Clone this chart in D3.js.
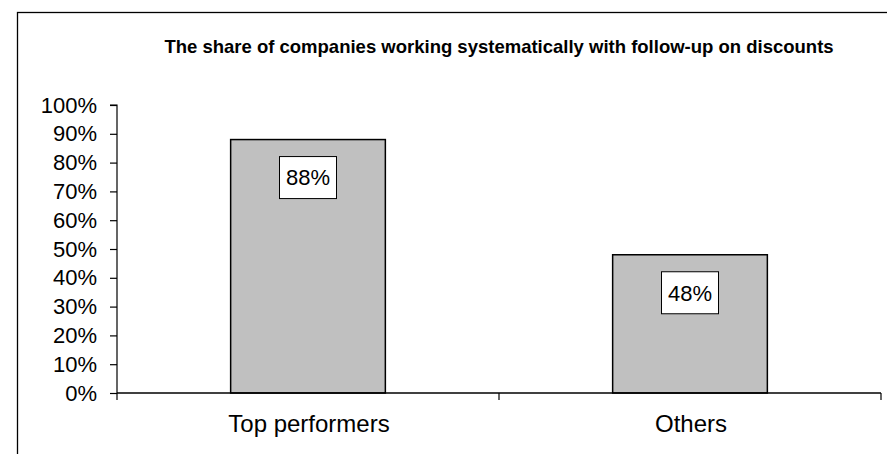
<!DOCTYPE html>
<html>
<head>
<meta charset="utf-8">
<script src="https://cdn.jsdelivr.net/npm/d3@7"></script>
<style>
  html, body { margin: 0; padding: 0; background: #fff; }
  svg { display: block; font-family: "Liberation Sans", Arial, sans-serif; }
</style>
</head>
<body>
<svg id="chart" width="887" height="454"></svg>
<script>
// Chart content
const chartTitle = "The share of companies working systematically with follow-up on discounts";
const categories = ["Top performers", "Others"];
const shares = [0.88, 0.48];
const valueLabels = ["88%", "48%"];
const yTickValues = [0, 0.1, 0.2, 0.3, 0.4, 0.5, 0.6, 0.7, 0.8, 0.9, 1.0];

const svg = d3.select("#chart");
const W = 887, H = 454;

// Plot area
const plot = { left: 117, right: 881, top: 105, bottom: 393 };

// Outer chart frame (extends past the right and bottom edges of the view)
svg.append("rect")
  .attr("x", 17.5).attr("y", 12.5)
  .attr("width", W + 40).attr("height", H + 40)
  .attr("fill", "#fff").attr("stroke", "#000").attr("stroke-width", 1.3);

// Scales
const x = d3.scaleBand().domain(categories).range([plot.left, plot.right]).padding(0);
const y = d3.scaleLinear().domain([0, 1]).range([plot.bottom, plot.top]);
const barFrac = 0.405;
const barW = x.bandwidth() * barFrac;

// Title
svg.append("text")
  .attr("x", (plot.left + plot.right) / 2)
  .attr("y", 53)
  .attr("text-anchor", "middle")
  .attr("font-weight", "bold")
  .attr("font-size", 18.5)
  .attr("fill", "#000")
  .text(chartTitle);

// Y axis
const yAxis = d3.axisLeft(y)
  .tickValues(yTickValues)
  .tickFormat(d3.format(".0%"))
  .tickSize(7)
  .tickPadding(13);
const gy = svg.append("g")
  .attr("transform", `translate(${plot.left},0)`)
  .call(yAxis);
gy.select(".domain").attr("stroke", "#000").attr("stroke-width", 1.2)
  .attr("d", `M-7,${y(1)}H0V${y(0)}`);
gy.selectAll(".tick line").attr("stroke", "#000").attr("stroke-width", 1.2);
gy.selectAll(".tick text")
  .attr("font-size", 22)
  .attr("fill", "#000")
  .attr("font-family", "'Liberation Sans', Arial, sans-serif");

// Bars
svg.append("g").selectAll("rect")
  .data(categories)
  .join("rect")
  .attr("x", (d) => x(d) + (x.bandwidth() - barW) / 2)
  .attr("y", (d, i) => y(shares[i]))
  .attr("width", barW)
  .attr("height", (d, i) => y(0) - y(shares[i]))
  .attr("fill", "#c0c0c0")
  .attr("stroke", "#000")
  .attr("stroke-width", 1.5);

// X axis: baseline with tick marks on category boundaries
const gx = svg.append("g").attr("transform", `translate(0,${plot.bottom})`);
gx.append("line")
  .attr("x1", plot.left).attr("x2", plot.right)
  .attr("y1", 0).attr("y2", 0)
  .attr("stroke", "#000").attr("stroke-width", 1.5);
const boundaries = categories.map((c) => x(c)).concat([x(categories[categories.length - 1]) + x.step()]);
gx.selectAll("line.tick")
  .data(boundaries)
  .join("line")
  .attr("class", "tick")
  .attr("x1", (d) => d).attr("x2", (d) => d)
  .attr("y1", 0).attr("y2", 7)
  .attr("stroke", "#000").attr("stroke-width", 1.2);
gx.selectAll("text")
  .data(categories)
  .join("text")
  .attr("x", (d) => x(d) + x.bandwidth() / 2 + 1)
  .attr("y", 39)
  .attr("text-anchor", "middle")
  .attr("font-size", 24)
  .attr("fill", "#000")
  .text((d) => d);

// Value labels in boxed callouts inside the bars
const labelG = svg.append("g").selectAll("g")
  .data(categories)
  .join("g")
  .attr("transform", (d, i) => `translate(${x(d) + x.bandwidth() / 2},${y(shares[i]) + 38})`);
labelG.append("rect")
  .attr("x", -28.5).attr("y", -21)
  .attr("width", 57).attr("height", 42)
  .attr("fill", "#fff")
  .attr("stroke", "#000")
  .attr("stroke-width", 1);
labelG.append("text")
  .attr("text-anchor", "middle")
  .attr("dy", "0.36em")
  .attr("font-size", 22)
  .attr("fill", "#000")
  .text((d, i) => valueLabels[i]);
</script>
</body>
</html>
